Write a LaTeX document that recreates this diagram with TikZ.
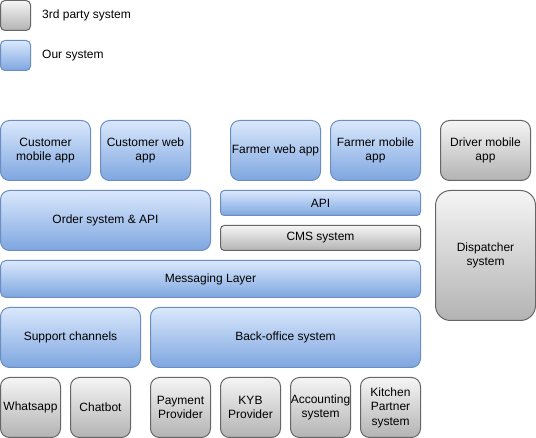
\documentclass[tikz,border=0pt]{standalone}
\usepackage{fontspec}
\setmainfont{Liberation Sans}
\definecolor{ourtop}{HTML}{DAE8FC}
\definecolor{ourbot}{HTML}{7EA6E0}
\definecolor{ourline}{HTML}{6C8EBF}
\definecolor{thtop}{HTML}{F5F5F5}
\definecolor{thbot}{HTML}{B3B3B3}
\definecolor{thline}{HTML}{666666}
\newcommand\bx[8]{\node[#2, minimum width=#5pt, minimum height=#6pt, rounded corners=#7pt] (#1) at (#3,#4) {#8};}
\begin{document}
\begin{tikzpicture}[x=1pt,y=-1pt,
  box/.style={draw, line width=1pt, inner sep=0pt, outer sep=0pt, align=center, anchor=north west, font=\fontsize{12}{14.5}\selectfont},
  ours/.style={box, draw=ourline, top color=ourtop, bottom color=ourbot},
  third/.style={box, draw=thline, top color=thtop, bottom color=thbot},
  legendtext/.style={anchor=west, inner sep=0pt, font=\fontsize{12}{14.5}\selectfont}
]
\useasboundingbox (0,0) rectangle (536,438);
% legend
\bx{lg3}{third}{0.5}{0.5}{30}{30}{4.5}{}
\node[legendtext] (lt3) at (42,15.5) {3rd party system};
\bx{lgo}{ours}{0.5}{40.5}{30}{30}{4.5}{}
\node[legendtext] (lto) at (42,55.5) {Our system};
% top row
\bx{cma}{ours}{0.5}{120.5}{90}{60}{9}{Customer\\mobile app}
\bx{cwa}{ours}{100.5}{120.5}{90}{60}{9}{Customer web\\app}
\bx{fwa}{ours}{230.5}{120.5}{90}{60}{9}{Farmer web app}
\bx{fma}{ours}{330.5}{120.5}{90}{60}{9}{Farmer mobile\\app}
\bx{dma}{third}{440.5}{120.5}{90}{60}{9}{Driver mobile\\app}
% second row
\bx{osa}{ours}{0.5}{190.5}{210}{60}{9}{Order system \& API}
\bx{api}{ours}{220.5}{190.5}{200}{25}{3.75}{API}
\bx{cms}{third}{220.5}{225.5}{200}{25}{3.75}{CMS system}
\bx{disp}{third}{435.5}{190.5}{100}{130}{15}{Dispatcher\\system}
% messaging
\bx{msg}{ours}{0.5}{260.5}{420}{37}{5.5}{Messaging Layer}
% support / back-office
\bx{sup}{ours}{0.5}{307.5}{140}{60}{9}{Support channels}
\bx{bo}{ours}{150.5}{307.5}{270}{60}{9}{Back-office system}
% bottom row
\bx{wa}{third}{0.5}{377.5}{60}{60}{9}{Whatsapp}
\bx{cb}{third}{70.5}{377.5}{60}{60}{9}{Chatbot}
\bx{pay}{third}{150.5}{377.5}{60}{60}{9}{Payment\\Provider}
\bx{kyb}{third}{220.5}{377.5}{60}{60}{9}{KYB\\Provider}
\bx{acc}{third}{290.5}{377.5}{60}{60}{9}{Accounting\\system}
\bx{kit}{third}{360.5}{377.5}{60}{60}{9}{Kitchen\\Partner\\system}
\end{tikzpicture}
\end{document}
